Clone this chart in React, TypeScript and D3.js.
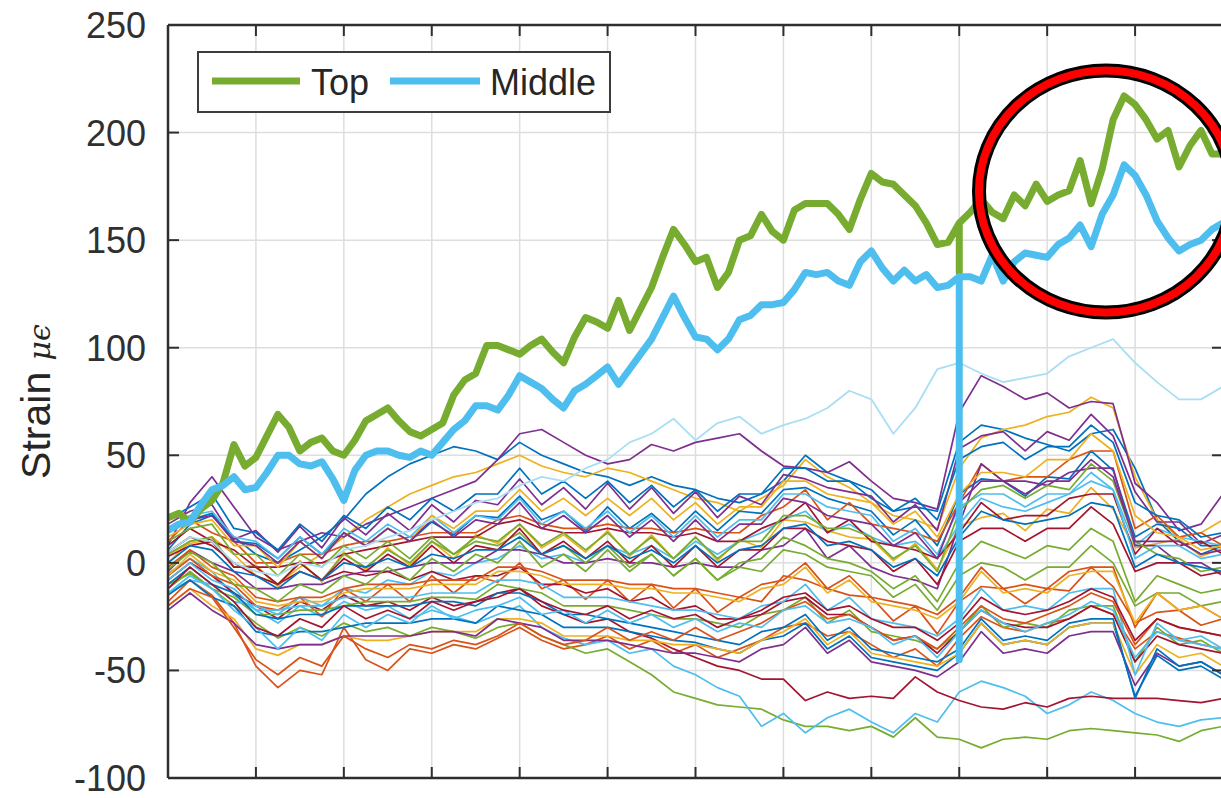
import React from "react";
import * as d3 from "d3";

const WIDTH = 1221;
const HEIGHT = 798;
const PLOT = { left: 168, right: 1223, top: 25, bottom: 778 };

const yTicks = [-100, -50, 0, 50, 100, 150, 200, 250];
const xTicks = [0, 1, 2, 3, 4, 5, 6, 7, 8, 9, 10, 11, 12];

// Thick gauges, sampled every 1/8 of a time unit (97 samples)
const topStrain = [
  21, 23, 19, 25, 29, 37, 55, 45, 49, 59,
  69, 63, 52, 56, 58, 52, 50, 57, 66, 69,
  72, 66, 61, 59, 62, 65, 78, 85, 88, 101,
  101, 99, 97, 101, 104, 98, 93, 105, 114, 112,
  109, 122, 108, 118, 128, 142, 155, 148, 140, 142,
  128, 135, 150, 152, 162, 154, 150, 164, 167, 167,
  167, 162, 155, 169, 181, 177, 176, 171, 166, 158,
  148, 149, 158, 163, 169, 163, 160, 171, 166, 176,
  168, 171, 173, 187, 167, 183, 206, 217, 213, 206,
  197, 201, 184, 194, 201, 190, 190,
];
const middleStrain = [
  15, 18, 19, 27, 34, 36, 40, 34, 35, 42,
  50, 50, 46, 45, 47, 39, 29, 43, 50, 52,
  52, 50, 49, 52, 50, 56, 62, 66, 73, 73,
  71, 78, 87, 84, 81, 76, 72, 80, 83, 87,
  91, 83, 90, 97, 104, 114, 124, 114, 105, 104,
  99, 104, 113, 115, 120, 120, 121, 127, 135, 134,
  135, 131, 129, 140, 145, 137, 131, 136, 131, 134,
  128, 129, 133, 133, 131, 143, 131, 140, 144, 143,
  142, 148, 151, 157, 147, 162, 171, 185, 180, 171,
  159, 151, 145, 148, 150, 155, 158,
];
// momentary logger dropout at one sample
const dropoutSample = 72;
const topDropout = 135;
const middleDropout = -45;

// Remaining gauges, sampled every 1/4 of a time unit (49 samples)
const gauges: number[][] = [
  [6, 18, 22, 12, 4, 0, 6, 12, 20, 32, 40, 46, 50, 54, 52, 48, 56, 50, 46, 42, 40, 36, 40, 36, 34, 30, 28, 32, 38, 50, 42, 38, 30, 24, 26, 24, 56, 64, 62, 58, 55, 52, 60, 62, 44, 20, 10, 4, 8],
  [-18, -8, -15, -28, -48, -58, -50, -52, -30, -45, -50, -40, -42, -38, -40, -35, -30, -36, -40, -38, -34, -40, -36, -42, -38, -44, -40, -36, -30, -28, -34, -32, -38, -44, -40, -48, -35, -25, -30, -32, -28, -26, -20, -24, -40, -32, -35, -38, -40],
  [0, 10, 12, 4, -6, -10, -2, 4, 12, 20, 26, 32, 36, 40, 42, 46, 50, 45, 42, 40, 44, 42, 38, 34, 30, 28, 24, 30, 36, 48, 40, 35, 28, 22, 20, 16, 44, 58, 62, 64, 68, 70, 77, 72, 40, 20, 12, 14, 20],
  [8, 28, 40, 26, 12, 6, 10, 14, 12, 18, 22, 26, 30, 34, 38, 48, 60, 62, 56, 50, 46, 48, 55, 52, 56, 58, 60, 52, 45, 44, 42, 47, 38, 30, 28, 25, 70, 87, 82, 76, 79, 72, 75, 74, 37, 28, 15, 18, 32],
  [-10, -5, -12, -20, -28, -35, -30, -34, -28, -32, -30, -34, -30, -32, -35, -30, -28, -34, -38, -42, -40, -46, -52, -60, -63, -66, -67, -68, -73, -76, -76, -78, -76, -81, -72, -81, -82, -86, -82, -81, -82, -78, -77, -78, -79, -80, -83, -78, -76],
  [-5, 2, -4, -15, -22, -28, -20, -25, -18, -22, -20, -26, -22, -25, -28, -24, -20, -30, -35, -38, -36, -42, -40, -48, -52, -58, -62, -76, -70, -79, -72, -68, -74, -79, -70, -74, -60, -55, -58, -62, -70, -66, -60, -64, -70, -74, -76, -73, -72],
  [-8, 0, -6, -14, -20, -26, -18, -22, -15, -20, -18, -22, -16, -20, -18, -14, -12, -20, -24, -28, -26, -32, -35, -40, -44, -48, -50, -54, -54, -64, -60, -63, -62, -63, -53, -60, -64, -67, -68, -65, -67, -63, -62, -63, -63, -63, -64, -65, -63],
  [14, 20, 23, 10, 9, 2, 12, 4, 14, 8, 16, 10, 19, 13, 22, 21, 31, 20, 24, 15, 26, 16, 23, 14, 24, 15, 24, 23, 34, 35, 30, 27, 24, 13, 20, 8, 32, 39, 38, 31, 40, 39, 52, 43, 12, 18, 16, 8, 8],
  [-6, 2, -6, -10, -20, -22, -16, -25, -12, -18, -10, -18, -6, -14, -6, -9, 0, -12, -8, -17, -8, -18, -10, -21, -12, -23, -16, -18, -6, -8, -12, -15, -16, -27, -20, -33, -18, -11, -12, -19, -12, -13, -2, -11, -28, -23, -22, -29, -26],
  [4, 9, 11, -2, -1, -11, 1, -9, 5, -3, 7, -1, 10, 2, 13, 9, 18, 7, 13, 5, 15, 3, 13, 2, 12, 1, 11, 7, 20, 19, 15, 12, 11, 1, 9, -3, 17, 21, 23, 15, 25, 23, 35, 25, 7, 9, 11, 3, 7],
  [18, 24, 27, 11, 15, 5, 17, 7, 21, 13, 23, 15, 27, 19, 29, 27, 39, 27, 35, 25, 37, 25, 35, 23, 33, 21, 31, 27, 41, 39, 35, 33, 31, 19, 27, 15, 53, 59, 61, 52, 61, 57, 69, 59, 33, 19, 19, 9, 13],
  [-12, -4, -12, -16, -24, -24, -22, -22, -20, -18, -18, -18, -16, -16, -17, -10, -12, -14, -20, -20, -20, -22, -24, -26, -26, -28, -30, -24, -22, -16, -28, -22, -32, -34, -36, -40, -32, -20, -30, -28, -30, -22, -20, -20, -46, -30, -38, -36, -42],
  [-14, -8, -10, -18, -20, -24, -16, -20, -12, -14, -8, -10, -4, -6, 0, 2, 8, 2, 4, 0, 8, 4, 8, 2, 10, 4, 10, 14, 20, 24, 14, 18, 12, 8, 10, 2, 18, 30, 26, 24, 28, 32, 38, 34, 8, 16, 12, 10, 8],
  [8, 16, 10, 6, -2, -2, 0, 0, 4, 6, 8, 10, 12, 12, 12, 18, 20, 16, 14, 14, 16, 14, 14, 12, 14, 10, 10, 16, 20, 28, 14, 20, 10, 8, 6, 2, 14, 28, 20, 22, 22, 30, 32, 32, 4, 16, 8, 10, 4],
  [-15, -8, -16, -20, -32, -34, -32, -32, -30, -28, -28, -28, -26, -26, -28, -20, -22, -24, -30, -30, -30, -32, -34, -36, -37, -40, -42, -36, -34, -28, -40, -34, -44, -46, -48, -50, -42, -28, -38, -36, -38, -30, -28, -28, -62, -43, -50, -48, -54],
  [10, 20, 14, 10, 0, 0, 4, 4, 8, 10, 10, 12, 14, 14, 14, 20, 22, 18, 16, 16, 18, 16, 16, 14, 16, 14, 14, 22, 26, 34, 20, 28, 18, 16, 14, 10, 28, 46, 38, 40, 40, 48, 52, 52, 16, 22, 12, 14, 8],
  [-20, -12, -20, -26, -40, -43, -38, -38, -34, -36, -36, -34, -32, -32, -32, -26, -26, -28, -34, -34, -34, -36, -36, -38, -38, -40, -42, -36, -32, -26, -38, -32, -42, -44, -46, -48, -42, -28, -38, -36, -38, -30, -28, -28, -52, -38, -44, -42, -48],
  [-4, 6, 0, -4, -12, -12, -10, -10, -6, -4, -4, -2, 0, 0, 0, 6, 6, 4, 0, 0, 2, 0, 0, -2, 0, -2, -2, 6, 8, 16, 2, 8, -2, -6, -8, -12, 18, 46, 38, 38, 36, 42, 44, 44, 8, 8, 0, 0, -6],
  [10, 16, 18, 4, 4, -6, 4, -2, 8, 2, 10, 2, 12, 4, 10, 8, 14, 4, 8, 0, 8, -2, 4, -6, 2, -8, -2, -4, 6, 4, -2, -4, -6, -16, -10, -22, -6, 0, -2, -8, -2, -2, 8, 0, -20, -14, -14, -20, -18],
  [16, 22, 24, 12, 10, 2, 12, 4, 16, 10, 18, 12, 22, 14, 22, 20, 30, 18, 24, 16, 24, 14, 22, 12, 22, 12, 20, 20, 32, 32, 26, 24, 22, 10, 16, 4, 26, 32, 32, 26, 32, 32, 42, 34, 2, 8, 8, 2, 4],
  [5, 12, 8, 0, -6, -10, -4, -8, -4, -6, -4, -8, -4, -8, -6, -6, -2, -10, -10, -14, -12, -18, -16, -22, -20, -26, -26, -24, -18, -16, -24, -24, -30, -36, -34, -42, -32, -22, -28, -30, -30, -26, -20, -24, -46, -34, -38, -40, -42],
  [20, 26, 32, 16, 14, 6, 18, 10, 22, 16, 26, 20, 30, 24, 32, 32, 44, 32, 38, 30, 38, 28, 36, 26, 34, 24, 32, 32, 44, 44, 38, 38, 34, 24, 30, 20, 48, 54, 56, 48, 54, 54, 64, 56, 28, 22, 20, 12, 14],
  [-2, 6, -2, -6, -16, -18, -16, -16, -12, -10, -10, -10, -8, -8, -8, -2, -2, -4, -8, -8, -8, -10, -10, -12, -12, -14, -16, -10, -8, 0, -12, -6, -16, -18, -20, -24, -16, -2, -12, -10, -12, -4, -2, -2, -30, -14, -22, -20, -26],
  [12, 18, 20, 8, 8, -2, 10, 2, 14, 8, 16, 10, 22, 16, 24, 24, 34, 24, 30, 22, 30, 22, 30, 20, 28, 18, 26, 26, 38, 38, 32, 30, 28, 18, 24, 12, 32, 42, 42, 40, 48, 48, 60, 52, 22, 14, 12, 6, 8],
  [-22, -14, -22, -28, -38, -40, -38, -38, -34, -34, -34, -34, -32, -32, -34, -26, -28, -30, -36, -36, -36, -38, -40, -42, -42, -44, -46, -40, -38, -30, -42, -36, -46, -48, -50, -53, -46, -32, -42, -40, -42, -34, -32, -32, -57, -42, -48, -46, -52],
  [4, 10, 12, -2, -2, -10, 0, -8, 4, -2, 6, 0, 10, 4, 12, 10, 18, 8, 14, 6, 14, 4, 12, 2, 12, 2, 10, 10, 22, 22, 16, 16, 12, 2, 8, -4, 24, 34, 36, 30, 36, 34, 46, 38, 10, 4, 2, -4, -2],
  [-8, 0, -8, -12, -22, -22, -20, -20, -16, -16, -16, -16, -14, -14, -14, -8, -8, -10, -16, -16, -16, -18, -20, -22, -22, -24, -26, -20, -18, -10, -22, -16, -26, -28, -30, -34, -26, -12, -22, -20, -22, -14, -12, -12, -52, -28, -36, -34, -40],
  [3, 8, 10, -2, -2, -10, 0, -8, 2, -4, 4, -2, 8, 0, 8, 6, 16, 4, 10, 2, 10, 0, 8, -2, 8, -2, 6, 6, 16, 16, 10, 8, 6, -4, 2, -10, 10, 16, 16, 10, 16, 16, 26, 18, -4, 0, 0, -6, -4],
  [-10, -2, -10, -14, -24, -26, -24, -24, -20, -20, -20, -20, -18, -18, -20, -14, -14, -18, -24, -24, -26, -28, -30, -32, -34, -36, -38, -32, -30, -24, -36, -30, -40, -42, -44, -46, -40, -26, -36, -34, -36, -28, -26, -26, -63, -40, -48, -46, -52],
  [-20, -12, -16, -30, -45, -52, -44, -48, -34, -40, -44, -38, -40, -36, -38, -34, -28, -34, -38, -36, -30, -36, -32, -36, -30, -36, -32, -28, -22, -18, -26, -24, -30, -36, -34, -40, -30, -20, -26, -28, -24, -20, -14, -18, -38, -26, -30, -32, -34],
  [-6, 4, -4, -8, -18, -20, -18, -18, -14, -12, -12, -12, -10, -10, -10, -4, -4, -6, -10, -10, -10, -12, -12, -14, -14, -16, -18, -12, -10, -2, -14, -8, -18, -20, -22, -26, -18, -4, -14, -12, -14, -6, -4, -4, -28, -14, -22, -20, -26],
  [14, 20, 22, 10, 8, 0, 10, 2, 14, 8, 16, 10, 20, 12, 20, 18, 28, 16, 22, 14, 22, 12, 20, 10, 20, 10, 18, 18, 30, 28, 22, 20, 18, 8, 14, 2, 28, 38, 38, 32, 38, 38, 48, 40, 10, 10, 10, 4, 6],
  [-3, 5, 0, -10, -12, -18, -10, -14, -6, -10, -2, -8, 2, -4, 4, 0, 10, -2, 4, -4, 6, -4, 4, -6, 2, -8, 0, 2, 12, 8, 2, 0, -4, -12, -6, -18, 0, 10, 6, 2, 8, 6, 16, 10, -18, -6, -10, -14, -12],
  [-14, -6, -12, -22, -30, -40, -30, -36, -24, -30, -24, -28, -20, -26, -22, -20, -16, -24, -22, -28, -22, -28, -24, -30, -26, -32, -28, -30, -22, -20, -28, -26, -30, -38, -34, -44, -32, -22, -28, -32, -28, -24, -18, -22, -44, -32, -36, -38, -40],
  [-12, -2, -10, -18, -30, -34, -26, -30, -20, -26, -22, -26, -18, -22, -18, -16, -12, -18, -22, -24, -20, -26, -22, -26, -24, -30, -26, -22, -16, -14, -22, -20, -26, -30, -30, -36, -28, -16, -22, -24, -22, -18, -12, -16, -36, -26, -30, -32, -34],
  [0, 8, 6, -4, -6, -12, -4, -8, 0, -2, 2, -2, 4, 2, 6, 6, 12, 4, 8, 2, 8, 2, 6, 0, 8, 0, 6, 8, 16, 18, 8, 10, 6, -2, 2, -6, 12, 24, 20, 18, 20, 22, 28, 26, -2, 4, 0, -2, -4],
];

// Pale gauge that drifts upward through the run
const paleGauge = [
  5, 12, 10, 0, -4, -6, 0, -2, 6, 8, 12, 15, 20, 24, 28, 30, 36, 40, 38, 44,
  48, 56, 60, 67, 57, 65, 68, 60, 64, 67, 72, 80, 76, 60, 72, 90, 93, 88, 84, 86,
  88, 96, 100, 104, 93, 84, 76, 76, 82,
];

const palette = ["#0072BD", "#D95319", "#EDB120", "#7E2F8E", "#77AC30", "#4DBEEE", "#A2142F"];
const TOP_COLOR = "#77AC30";
const MIDDLE_COLOR = "#4DBEEE";
const FONT = "'Liberation Sans', Arial, Helvetica, sans-serif";

const x = d3.scaleLinear().domain([0, 12]).range([PLOT.left, PLOT.right]);
const y = d3.scaleLinear().domain([-100, 250]).range([PLOT.bottom, PLOT.top]);

const line = d3
  .line<[number, number]>()
  .x((d) => x(d[0]))
  .y((d) => y(d[1]));

function fineSeries(values: number[], dropout: number): [number, number][] {
  const pts: [number, number][] = [];
  values.forEach((v, k) => {
    const t = k / 8;
    pts.push([t, v]);
    if (k === dropoutSample) {
      pts.push([t, dropout]);
      pts.push([t, v]);
    }
  });
  return pts;
}

function coarseSeries(values: number[]): [number, number][] {
  return values.map((v, i) => [i / 4, v] as [number, number]);
}

export default function App() {
  const gridColor = "#dedede";
  const axisColor = "#2e2e2e";
  return (
    <svg
      width={WIDTH}
      height={HEIGHT}
      style={{ position: "absolute", left: 0, top: 0, background: "#ffffff" }}
      fontFamily={FONT}
    >
      <defs>
        <clipPath id="plot-clip">
          <rect x={PLOT.left} y={PLOT.top} width={PLOT.right - PLOT.left} height={PLOT.bottom - PLOT.top} />
        </clipPath>
      </defs>
      <rect x={0} y={0} width={WIDTH} height={HEIGHT} fill="#ffffff" />

      {/* grid */}
      <g stroke={gridColor} strokeWidth={1.5}>
        {xTicks.slice(1, -1).map((t) => (
          <line key={"gx" + t} x1={x(t)} x2={x(t)} y1={PLOT.top} y2={PLOT.bottom} />
        ))}
        {yTicks.slice(1, -1).map((v) => (
          <line key={"gy" + v} x1={PLOT.left} x2={PLOT.right} y1={y(v)} y2={y(v)} />
        ))}
      </g>

      {/* gauge traces */}
      <g clipPath="url(#plot-clip)" fill="none" strokeLinejoin="round">
        {gauges.map((g, j) => (
          <path key={"g" + j} d={line(coarseSeries(g)) || ""} stroke={palette[j % palette.length]} strokeWidth={1.7} />
        ))}
        <path d={line(coarseSeries(paleGauge)) || ""} stroke="#a9def3" strokeWidth={1.8} />
        <path d={line(fineSeries(topStrain, topDropout)) || ""} stroke={TOP_COLOR} strokeWidth={7} />
        <path d={line(fineSeries(middleStrain, middleDropout)) || ""} stroke={MIDDLE_COLOR} strokeWidth={7} />
      </g>

      {/* axes box */}
      <g stroke={axisColor} strokeWidth={2.5} fill="none">
        <line x1={PLOT.left} x2={PLOT.left} y1={PLOT.top} y2={PLOT.bottom} />
        <line x1={PLOT.right} x2={PLOT.right} y1={PLOT.top} y2={PLOT.bottom} />
        <line x1={PLOT.left} x2={PLOT.right} y1={PLOT.top} y2={PLOT.top} />
        <line x1={PLOT.left} x2={PLOT.right} y1={PLOT.bottom} y2={PLOT.bottom} />
      </g>
      <g stroke={axisColor} strokeWidth={2}>
        {yTicks.map((v) => (
          <g key={"ty" + v}>
            <line x1={PLOT.left} x2={PLOT.left + 11} y1={y(v)} y2={y(v)} />
            <line x1={PLOT.right} x2={PLOT.right - 11} y1={y(v)} y2={y(v)} />
          </g>
        ))}
        {xTicks.map((t) => (
          <g key={"tx" + t}>
            <line x1={x(t)} x2={x(t)} y1={PLOT.top} y2={PLOT.top + 11} />
            <line x1={x(t)} x2={x(t)} y1={PLOT.bottom} y2={PLOT.bottom - 11} />
          </g>
        ))}
      </g>
      <g fontSize={36} fill="#303030" textAnchor="end">
        {yTicks.map((v) => (
          <text key={"ly" + v} x={146} y={y(v) + 13}>
            {v}
          </text>
        ))}
      </g>

      {/* y-axis title */}
      <text transform={`translate(50, ${(PLOT.top + PLOT.bottom) / 2}) rotate(-90)`} textAnchor="middle" fontSize={41} fill="#262626">
        Strain{" "}
        <tspan fontFamily="'DejaVu Serif', serif" fontStyle="italic" fontSize={30}>
          μϵ
        </tspan>
      </text>

      {/* legend */}
      <g>
        <rect x={198} y={52} width={412} height={60} fill="#ffffff" stroke="#3c3c3c" strokeWidth={2} />
        <line x1={212} x2={300} y1={81} y2={81} stroke={TOP_COLOR} strokeWidth={7} />
        <text x={311} y={95} fontSize={36} fill="#262626">
          Top
        </text>
        <line x1={390} x2={480} y1={81} y2={81} stroke={MIDDLE_COLOR} strokeWidth={7} />
        <text x={490} y={95} fontSize={36} fill="#262626">
          Middle
        </text>
      </g>

      {/* highlight ring */}
      <g fill="none">
        <ellipse cx={1106} cy={191.5} rx={127} ry={121} stroke="#000000" strokeWidth={14} />
        <ellipse cx={1106} cy={191.5} rx={127} ry={121} stroke="#ff0000" strokeWidth={8} />
      </g>
    </svg>
  );
}
